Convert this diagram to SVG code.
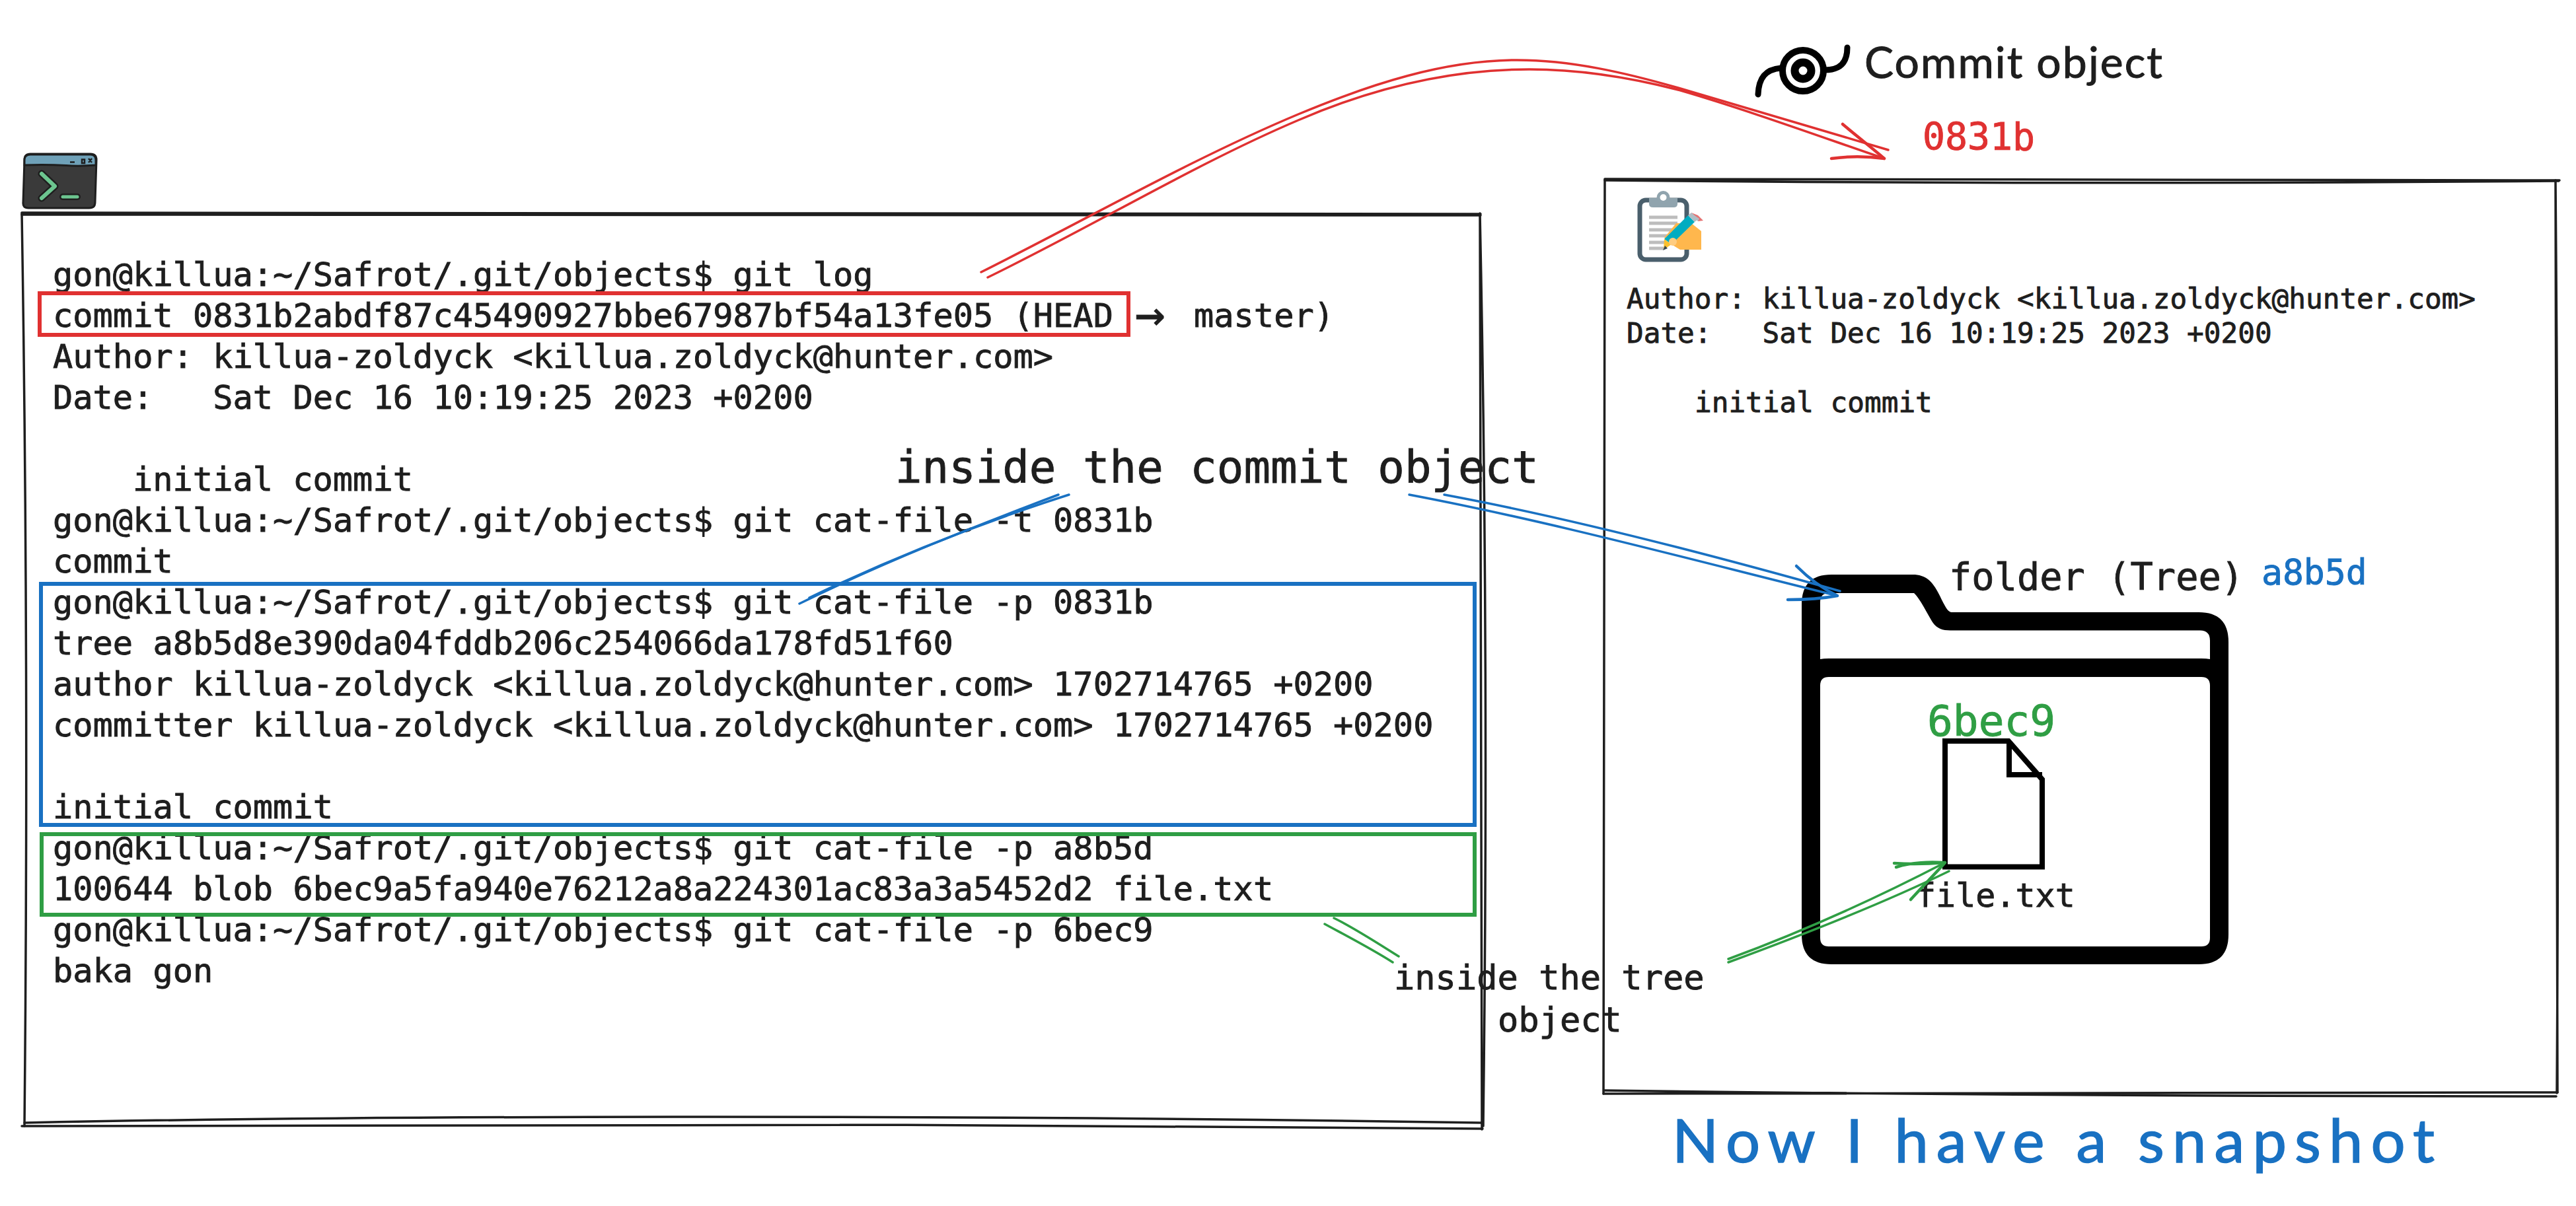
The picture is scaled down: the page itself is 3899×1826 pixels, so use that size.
<svg xmlns="http://www.w3.org/2000/svg" width="3899" height="1826" viewBox="0 0 3899 1826">
<style>
.m{font-family:"DejaVu Sans Mono","Liberation Mono",monospace;fill:#1e1e1e;stroke:#1e1e1e;stroke-width:.9}
.t{font-size:50.3px}
.p{font-size:42.7px}
.h{font-family:Lato,"Noto Sans",sans-serif}
.sk{fill:none;stroke:#1e1e1e;stroke-width:3.500;stroke-linecap:round}
.box{fill:none;stroke-width:6}
.c{fill:none;stroke-linecap:round;stroke-linejoin:round}
.r{stroke:#e03131}.b{stroke:#1971c2}.g{stroke:#2f9e44}
.ic{fill:none;stroke:#000}
</style>
<rect width="3899" height="1826" fill="#fff"/>

<g id="terminal-icon">
<path d="M46 233H137Q146 233 146 242L144 306Q144 315 135 315H43Q34 315 35 306L37 242Q37 233 46 233Z" fill="#3a3a3a" stroke="#1e1e1e" stroke-width="3"/>
<path d="M46 234H137Q145 234 145 242V250Q120 252 100 250.500Q70 249 37 250V242Q37 234 46 234Z" fill="#6fa1b8" stroke="#1e1e1e" stroke-width="3"/>
<path d="M106 245.500H113M124 241.500V247H128V241.500ZM134 240L139 246M139 240L134 246" fill="none" stroke="#1e1e1e" stroke-width="2.500"/>
<path d="M63 263L83 282L63 300" fill="none" stroke="#1e1e1e" stroke-width="11" stroke-linecap="round" stroke-linejoin="round"/>
<path d="M63 263L83 282L63 300" fill="none" stroke="#6cc58f" stroke-width="6" stroke-linecap="round" stroke-linejoin="round"/>
<path d="M95 298H117" fill="none" stroke="#1e1e1e" stroke-width="10" stroke-linecap="round"/>
<path d="M95 298H117" fill="none" stroke="#6cc58f" stroke-width="5" stroke-linecap="round"/>
</g>

<g id="terminal">
<path class="sk" d="M33 323Q44 1000 37 1705"/>
<path class="sk" d="M33 322Q1000 319 2241 324M33 325Q1100 324 2241 326"/>
<path class="sk" d="M2240 323L2243 1710M2240 323Q2254 1000 2245 1705"/>
<path class="sk" d="M37 1700C600 1688 1500 1688 2244 1700M33 1705C800 1700 1500 1702 2244 1709"/>
<g class="m t">
<text x="80" y="433">gon@killua:~/Safrot/.git/objects$ git log</text>
<text x="80" y="495">commit 0831b2abdf87c45490927bbe67987bf54a13fe05 (HEAD <tspan x="1718" font-size="76" dy="6">→</tspan><tspan x="1807" dy="-6">master)</tspan></text>
<text x="80" y="557">Author: killua-zoldyck &lt;killua.zoldyck@hunter.com&gt;</text>
<text x="80" y="619" xml:space="preserve">Date:   Sat Dec 16 10:19:25 2023 +0200</text>
<text x="201" y="743">initial commit</text>
<text x="80" y="805">gon@killua:~/Safrot/.git/objects$ git cat-file -t 0831b</text>
<text x="80" y="867">commit</text>
<text x="80" y="929">gon@killua:~/Safrot/.git/objects$ git cat-file -p 0831b</text>
<text x="80" y="991">tree a8b5d8e390da04fddb206c254066da178fd51f60</text>
<text x="80" y="1053">author killua-zoldyck &lt;killua.zoldyck@hunter.com&gt; 1702714765 +0200</text>
<text x="80" y="1115">committer killua-zoldyck &lt;killua.zoldyck@hunter.com&gt; 1702714765 +0200</text>
<text x="80" y="1239">initial commit</text>
<text x="80" y="1301">gon@killua:~/Safrot/.git/objects$ git cat-file -p a8b5d</text>
<text x="80" y="1363">100644 blob 6bec9a5fa940e76212a8a224301ac83a3a5452d2 file.txt</text>
<text x="80" y="1425">gon@killua:~/Safrot/.git/objects$ git cat-file -p 6bec9</text>
<text x="80" y="1487">baka gon</text>
</g>
</g>

<g id="highlight-commit"><rect class="box r" x="60" y="444" width="1648" height="63"/></g>
<g id="highlight-tree"><rect class="box b" x="62" y="884" width="2170" height="365"/></g>
<g id="highlight-blob"><rect class="box g" x="63" y="1263" width="2169" height="122"/></g>

<g id="commit-panel">
<path class="sk" d="M2429 271Q3100 271 3874 273M2429 273Q3100 280 3873 274"/>
<path class="sk" d="M2429 272L2427 1656"/>
<path class="sk" d="M3868 273Q3874 1000 3870 1655M3868 274Q3867 1000 3871 1654"/>
<path class="sk" d="M2428 1651Q3100 1660 3869 1660M2427 1656Q3100 1658 3871 1654"/>
<g id="clipboard-icon">
<rect x="2482" y="303" width="71" height="90" rx="9" fill="#fff" stroke="#4a5f6c" stroke-width="7"/>
<path d="M2496 300H2539V309Q2539 314 2533 314H2502Q2496 314 2496 309Z" fill="#90a4ae"/>
<circle cx="2517.500" cy="299" r="7.500" fill="#fff" stroke="#90a4ae" stroke-width="5"/>
<path d="M2496 329H2539M2496 338H2539M2496 348H2539M2496 357H2530M2496 367H2522M2496 376H2518" stroke="#bdbdbd" stroke-width="5"/>
<path d="M2519 360L2537 338H2560L2575 350V378H2543L2530 370Z" fill="#ffb74d"/>
<path d="M2519 362L2555 326L2565 336L2530 370Z" fill="#00acc1"/>
<path d="M2555 326L2560 322L2570 332L2565 336Z" fill="#b0bec5"/>
<path d="M2560 322L2565 327L2570 332L2570 335L2578 334L2570 326Z" fill="#e57373"/>
<path d="M2560 322Q2564 326 2572 331L2570 335L2560 326Z" fill="#b0bec5"/>
<path d="M2519 362L2530 370L2518 378Z" fill="#fbc02d"/>
<path d="M2520 372L2524 376L2517 379Z" fill="#37474f"/>
<circle cx="2532" cy="366" r="6" fill="#ffcc80"/>
</g>
<g class="m p">
<text x="2462" y="467">Author: killua-zoldyck &lt;killua.zoldyck@hunter.com&gt;</text>
<text x="2462" y="519" xml:space="preserve">Date:   Sat Dec 16 10:19:25 2023 +0200</text>
<text x="2565" y="624">initial commit</text>
</g>
</g>

<g id="folder-tree">
<path fill="#000" fill-rule="evenodd" d="M2772 870H2895C2915 870 2925 880 2935 900C2945 920 2948 927 2955 927H3328Q3373 927 3373 972V1415Q3373 1460 3328 1460H2772Q2727 1460 2727 1415V915Q2727 870 2772 870ZM2768 898Q2755 898 2755 912V998Q2760 997 2768 997H3332Q3340 997 3345 998V970Q3345 954.500 3330 954.500H2952C2940 954.500 2932 952 2925 942C2915 925 2905 905 2897 898ZM2768 1025Q2755 1025 2755 1038V1420Q2755 1433 2768 1433H3332Q3345 1433 3345 1420V1038Q3345 1025 3332 1025Z"/>
<text class="m" x="2950" y="893" font-size="57">folder (Tree)</text>
<text class="m" x="3423" y="885" font-size="53" style="fill:#1971c2;stroke:#1971c2">a8b5d</text>
</g>

<g id="file-blob">
<path class="ic" stroke-width="8" d="M2944 1122H3040L3091 1180V1312.500H2944ZM3041 1122V1173H3091"/>
<text class="m" x="2917" y="1114" font-size="64.500" style="fill:#2f9e44;stroke:#2f9e44">6bec9</text>
<text class="m" x="2900" y="1373" font-size="50">file.txt</text>
</g>

<g id="commit-title">
<g fill="none" stroke="#000">
<circle cx="2729" cy="107" r="31" stroke-width="10"/>
<circle cx="2729" cy="107" r="12.500" stroke-width="12"/>
<path d="M2661 143C2662 118 2672 105 2696 103M2762 106C2785 106 2796 95 2796 72" stroke-width="9" stroke-linecap="round"/>
</g>
<text class="h" x="2822" y="118" font-size="66" fill="#1e1e1e" stroke="#1e1e1e" stroke-width="1" textLength="451" lengthAdjust="spacing">Commit object</text>
<text class="m" x="2910" y="227" font-size="56.500" style="fill:#e03131;stroke:#e03131">0831b</text>
</g>

<g id="label-inside-commit"><text class="m" x="1355" y="731" font-size="67.400">inside the commit object</text></g>
<g id="label-inside-tree">
<text class="m" x="2110" y="1498" font-size="52">inside the tree</text>
<text class="m" x="2267" y="1562" font-size="52">object</text>
</g>
<g id="label-snapshot"><text class="h" x="2531" y="1760" font-size="92" fill="#1971c2" stroke="#1971c2" stroke-width="1.500" textLength="1154" lengthAdjust="spacing">Now I have a snapshot</text></g>

<g id="connectors" class="c">
<g class="r" stroke-width="3.500">
<path d="M1485 412C1645 332 1805 240 1965 173C2075 127 2186 91 2296 91C2378 91 2460 110 2540 133C2640 162 2750 195 2858 227"/>
<path d="M1495 420C1655 342 1810 248 1965 182C2085 130 2200 105 2315 105C2390 105 2470 118 2540 136C2640 165 2750 205 2852 240"/>
<path stroke-width="4.500" d="M2789 188C2815 210 2835 225 2852 240M2772 240C2800 236 2830 237 2852 240"/>
</g>
<g class="b" stroke-width="3.500">
<path d="M1210 914C1340 850 1480 795 1602 749"/>
<path d="M1225 905C1350 845 1490 790 1618 749"/>
<path d="M2133 749C2350 790 2570 850 2781 902"/>
<path d="M2186 749C2380 785 2590 840 2785 895"/>
<path stroke-width="4.500" d="M2719 857C2740 878 2760 892 2781 902M2706 908C2735 908 2760 906 2781 902"/>
</g>
<g class="g" stroke-width="3.500">
<path d="M2019 1390C2050 1405 2085 1428 2117 1448M2005 1399C2040 1418 2075 1436 2108 1457"/>
<path d="M2616 1452C2730 1410 2840 1360 2944 1306M2616 1457C2730 1415 2850 1368 2950 1319"/>
<path stroke-width="4.500" d="M2867 1307C2895 1309 2920 1308 2944 1306M2870 1313C2895 1305 2920 1305 2944 1306M2892 1362C2910 1342 2930 1322 2944 1306"/>
</g>
</g>
</svg>
